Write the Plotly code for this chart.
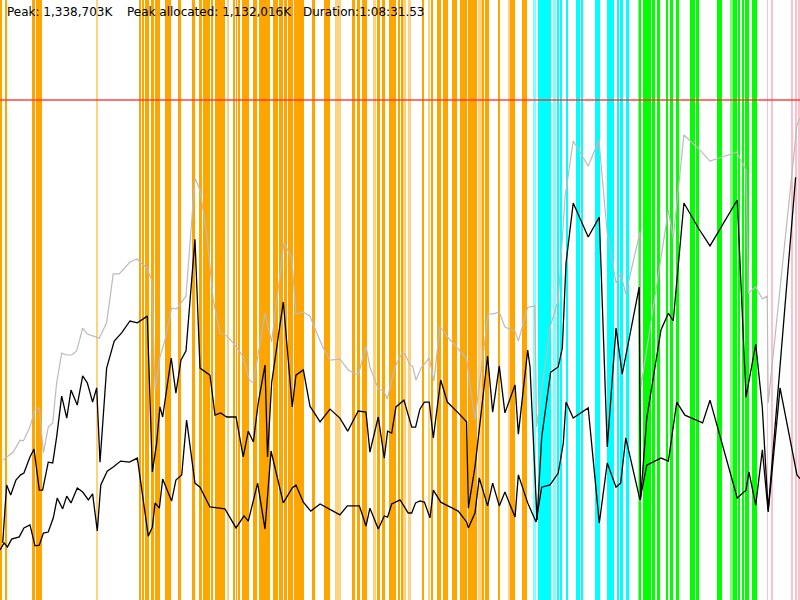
import plotly.graph_objects as go

# ---- summary values ----
PEAK_K = 1338703
PEAK_ALLOC_K = 1132016
DURATION_S = 4111.53
DURATION_TXT = "1:08:31.53"
Y_MAX = 1606444

# ---- memory series (time in seconds, memory in K) ----
heap_t = [15, 34, 68, 103, 120, 154, 180, 202, 223, 248, 271, 291, 317, 343, 368, 394, 425, 449, 483, 510,
          548, 582, 613, 668, 703, 728, 754, 780, 797, 822, 848, 882, 908, 956, 1002, 1028, 1062, 1096, 1131,
          1165, 1199, 1250, 1281, 1302, 1336, 1362, 1396, 1459, 1499, 1521, 1559, 1593, 1628, 1661, 1696,
          1747, 1790, 1841, 1881, 1901, 1944, 1973, 1990, 2030, 2064, 2081, 2107, 2121, 2138, 2164, 2206,
          2230, 2261, 2301, 2355, 2398, 2441, 2476, 2509, 2535, 2566, 2595, 2647, 2664, 2712, 2749, 2758,
          2827, 2869, 2904, 2946, 3023, 3078, 3121, 3166, 3190, 3216, 3289, 3294, 3435, 3460, 3515, 3597,
          3649, 3786, 3834, 3846, 3884, 3918, 3943, 3948, 4096, 4111]
heap_k = [375, 383, 396, 428, 426, 463, 511, 514, 394, 463, 474, 581, 661, 656, 656, 667, 728, 712, 707, 701,
          742, 873, 873, 905, 913, 902, 889, 857, 562, 651, 696, 782, 779, 814, 1130, 1098, 982, 803, 715,
          707, 688, 651, 589, 581, 691, 768, 691, 956, 918, 766, 771, 760, 715, 675, 642,
          645, 616, 602, 680, 624, 565, 559, 538, 624, 659, 659, 629, 626, 589, 621, 648,
          586, 733, 704, 672, 645, 482, 624, 766, 766, 771, 731, 720, 693, 784, 787, 463,
          731, 803, 1079, 1229, 1162, 1231, 982, 849, 875, 819, 985, 570, 1044, 969, 1245, 1205,
          1175, 1199, 1151, 822, 838, 806, 814, 527, 1272, 1290]

alloc_t = [14, 34, 55, 82, 106, 123, 154, 175, 202, 219, 248, 271, 291, 317, 343, 365, 397, 425, 449, 476,
           497, 514, 548, 587, 625, 668, 706, 757, 783, 805, 822, 836, 880, 904, 930, 956, 1002, 1028, 1079,
           1105, 1134, 1165, 1213, 1250, 1276, 1302, 1327, 1362, 1375, 1396, 1456, 1502, 1521, 1559, 1593,
           1645, 1696, 1747, 1787, 1841, 1881, 1901, 1944, 1975, 1992, 2013, 2035, 2076, 2116, 2136, 2158,
           2181, 2206, 2227, 2265, 2299, 2355, 2398, 2407, 2441, 2506, 2532, 2566, 2595, 2647, 2664, 2712,
           2724, 2760, 2784, 2830, 2869, 2890, 2909, 2946, 3023, 3080, 3121, 3166, 3198, 3285, 3292, 3324,
           3397, 3435, 3460, 3515, 3589, 3649, 3789, 3834, 3884, 3918, 3948, 4089]
alloc_k = [153, 308, 281, 321, 335, 340, 383, 404, 294, 294, 369, 367, 436, 546, 487, 562, 522, 600, 581, 530,
           568, 369, 621, 693, 715, 747, 742, 760, 343, 420, 517, 490, 648, 554, 642, 667, 966, 621, 602,
           495, 501, 490, 490, 383, 452, 423, 527, 629, 383, 581, 798, 517, 602, 616, 519,
           477, 511, 487, 452, 506, 503, 396, 490, 380, 452, 447, 517, 535, 463, 463, 511,
           530, 530, 434, 589, 530, 501, 477, 246, 356, 653, 503, 626, 501, 576, 444, 669,
           624, 214, 436, 610, 624, 675, 902, 1063, 972, 1025, 410, 728, 605, 838, 268, 487,
           723, 768, 747, 1063, 996, 948, 1071, 543, 685, 514, 241, 1132.016]

live_t = [0, 21, 38, 60, 99, 123, 154, 180, 202, 223, 248, 274, 294, 322, 343, 365, 397, 425, 454, 476,
          500, 518, 551, 582, 620, 665, 706, 762, 783, 797, 819, 836, 882, 904, 934, 959, 1002, 1028, 1079,
          1131, 1156, 1213, 1254, 1276, 1324, 1362, 1393, 1456, 1502, 1521, 1559, 1597, 1645, 1747, 1785,
          1847, 1881, 1901, 1944, 1975, 1992, 2013, 2056, 2098, 2116, 2136, 2158, 2181, 2210, 2227, 2265,
          2355, 2398, 2407, 2441, 2463, 2506, 2532, 2566, 2595, 2647, 2664, 2712, 2755, 2784, 2827, 2869,
          2895, 2909, 2946, 3023, 3080, 3121, 3166, 3190, 3216, 3289, 3324, 3397, 3435, 3478, 3520, 3611,
          3649, 3789, 3834, 3849, 3884, 3918, 3948, 4009, 4096, 4111]
live_k = [134, 153, 142, 163, 169, 193, 201, 145, 147, 179, 182, 220, 273, 244, 278, 260, 300, 289, 268, 284,
          185, 308, 345, 356, 372, 369, 380, 171, 195, 260, 246, 324, 265, 321, 335, 482, 313, 302, 249,
          246, 244, 193, 225, 211, 313, 190, 399, 260, 300, 308, 262, 238, 257, 228, 252,
          252, 198, 246, 190, 225, 222, 257, 268, 233, 233, 260, 265, 262, 220, 294, 262,
          238, 209, 193, 233, 327, 252, 313, 252, 289, 222, 335, 260, 209, 302, 308, 340,
          420, 530, 487, 514, 206, 367, 302, 313, 434, 268, 361, 380, 372, 530, 495, 474,
          535, 273, 294, 343, 254, 402, 236, 568, 335, 325]

# ---- GC event spans (start, end in seconds) ----
orange_s = [0, 26, 164, 183, 719, 730, 745, 776, 797, 809, 848, 915, 987, 1023, 1043, 1084, 1105, 1151, 1197,
            1213, 1228, 1244, 1300, 1331, 1403, 1434, 1460, 1480, 1511, 1557, 1603, 1665, 1814, 1835, 1860,
            1937, 1963, 1999, 2045, 2066, 2169, 2220, 2246, 2277, 2323, 2364, 2405, 2441, 2482, 2492, 2564,
            2621, 2683]
orange_e = [10, 36, 180, 216, 725, 740, 766, 791, 807, 822, 879, 930, 1002, 1038, 1079, 1095, 1146, 1156, 1208,
            1218, 1233, 1280, 1321, 1388, 1429, 1454, 1475, 1506, 1552, 1562, 1619, 1696, 1824, 1850, 1886,
            1953, 1979, 2035, 2056, 2071, 2174, 2225, 2266, 2302, 2349, 2400, 2436, 2451, 2487, 2513, 2570,
            2647, 2708]
orange_light_s = [493, 1167, 1722, 1917, 2076, 2097, 2200, 2456, 2611]
orange_light_e = [504, 1177, 1752, 1932, 2086, 2112, 2205, 2477, 2616]
cyan_s = [2765, 2826, 2862, 2883, 2909, 2960, 2986, 3058, 3119, 3171, 3186, 3217]
cyan_e = [2821, 2832, 2873, 2888, 2919, 2981, 2996, 3083, 3155, 3181, 3202, 3232]
cyan_light_s = [2739, 2847]
cyan_light_e = [2755, 2857]
green_s = [3289, 3304, 3351, 3376, 3423, 3443, 3479, 3546, 3582, 3685, 3767, 3798, 3818, 3829, 3865]
green_e = [3294, 3345, 3366, 3392, 3433, 3459, 3489, 3572, 3592, 3710, 3787, 3803, 3823, 3849, 3890]
green_light_s = [3279, 3752]
green_light_e = [3284, 3767]
pink_s = [3942, 3967, 4070, 4086, 4106]
pink_e = [3947, 3973, 4075, 4096, 4112]

fig = go.Figure()


def add_spans(starts, ends, color):
    fig.add_trace(go.Bar(
        x=[(s + e) / 2 for s, e in zip(starts, ends)],
        width=[max(e - s, 4) for s, e in zip(starts, ends)],
        y=[Y_MAX] * len(starts),
        base=0,
        marker=dict(color=color, line=dict(width=0)),
        hoverinfo="skip", showlegend=False,
    ))


add_spans(orange_light_s, orange_light_e, "#FFD27F")
add_spans(orange_s, orange_e, "#FFA500")
add_spans(cyan_light_s, cyan_light_e, "#7FFFFF")
add_spans(cyan_s, cyan_e, "#00FFFF")
add_spans(green_light_s, green_light_e, "#7FFF7F")
add_spans(green_s, green_e, "#00FF00")
add_spans(pink_s, pink_e, "#FFC0CB")

fig.add_trace(go.Scatter(x=heap_t, y=[v * 1000 for v in heap_k], mode="lines",
                         line=dict(color="#BBBBBB", width=1.2), showlegend=False))
fig.add_trace(go.Scatter(x=alloc_t, y=[v * 1000 for v in alloc_k], mode="lines",
                         line=dict(color="#000000", width=1.3), showlegend=False))
fig.add_trace(go.Scatter(x=live_t, y=[v * 1000 for v in live_k], mode="lines",
                         line=dict(color="#000000", width=1.3), showlegend=False))
fig.add_trace(go.Scatter(x=[0, DURATION_S], y=[PEAK_K, PEAK_K], mode="lines",
                         line=dict(color="rgba(255,40,40,0.65)", width=2), showlegend=False))

font = dict(family="DejaVu Sans", size=12, color="#000000")
labels = [("Peak: 1,338,703K", 5), ("Peak allocated: 1,132,016K", 125), ("Duration:" + DURATION_TXT, 301)]
for txt, px in labels:
    fig.add_annotation(text=txt, x=px / 800, y=1 - 12 / 600, xref="paper", yref="paper",
                       xanchor="left", yanchor="middle", showarrow=False, font=font)

fig.update_layout(
    width=800, height=600,
    margin=dict(l=0, r=0, t=0, b=0),
    paper_bgcolor="white", plot_bgcolor="white",
    barmode="overlay", bargap=0,
    xaxis=dict(range=[0, DURATION_S], visible=False, fixedrange=True),
    yaxis=dict(range=[0, Y_MAX], visible=False, fixedrange=True),
)

fig.write_html("out.html", config={"displayModeBar": False},
               post_script="document.body.style.margin='0';document.body.style.overflow='hidden';")
